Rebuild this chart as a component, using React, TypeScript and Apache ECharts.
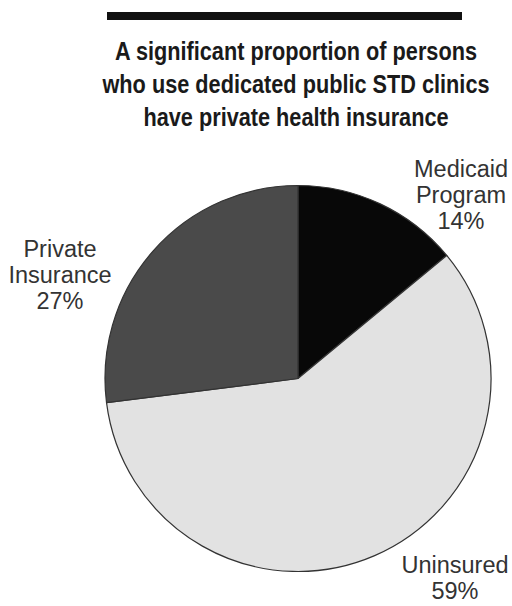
import React, { useEffect, useRef } from "react";
import * as echarts from "echarts";

const categories = ["Medicaid\nProgram", "Uninsured", "Private\nInsurance"];
const values = [14, 59, 27];
const sliceColors = ["#080808", "#e2e2e2", "#4a4a4a"];
const titleLines = [
  "A significant proportion of persons",
  "who use dedicated public STD clinics",
  "have private health insurance",
];

export default function App() {
  const ref = useRef<HTMLDivElement>(null);
  useEffect(() => {
    if (!ref.current) return;
    const chart = echarts.init(ref.current, null, { renderer: "svg" });
    const labelPos = [
      { x: 461, y: 195 },
      { x: 455, y: 578 },
      { x: 60, y: 275 },
    ];
    chart.setOption({
      animation: false,
      backgroundColor: "#ffffff",
      graphic: [
        { type: "rect", shape: { x: 107, y: 12, width: 355, height: 8 }, style: { fill: "#111" } },
        {
          type: "text",
          x: 296,
          y: 34,
          scaleX: 0.835,
          style: {
            text: titleLines.join("\n"),
            font: "bold 26px 'Liberation Sans', Arial, sans-serif",
            lineHeight: 33,
            textAlign: "center",
            textVerticalAlign: "top",
            fill: "#1a1a1a",
          },
        },
      ],
      series: [
        {
          type: "pie",
          center: [298, 378.5],
          radius: 193,
          startAngle: 90,
          clockwise: true,
          avoidLabelOverlap: false,
          data: categories.map((name, i) => ({
            name,
            value: values[i],
            itemStyle: { color: sliceColors[i] },
          })),
          itemStyle: { borderColor: "#333", borderWidth: 1.2 },
          label: {
            show: true,
            position: "outside",
            formatter: "{b}\n{d}%",
            fontFamily: "'Liberation Sans', Arial, sans-serif",
            fontSize: 23.5,
            lineHeight: 26,
            color: "#333",
            align: "center",
          },
          labelLine: { show: false },
          labelLayout: (p: any) => ({
            x: labelPos[p.dataIndex].x,
            y: labelPos[p.dataIndex].y,
            align: "center",
            verticalAlign: "middle",
          }),
          emphasis: { disabled: true },
        },
      ],
    });
    return () => chart.dispose();
  }, []);
  return (
    <div
      ref={ref}
      style={{ position: "fixed", left: 0, top: 0, width: 512, height: 606 }}
    />
  );
}
